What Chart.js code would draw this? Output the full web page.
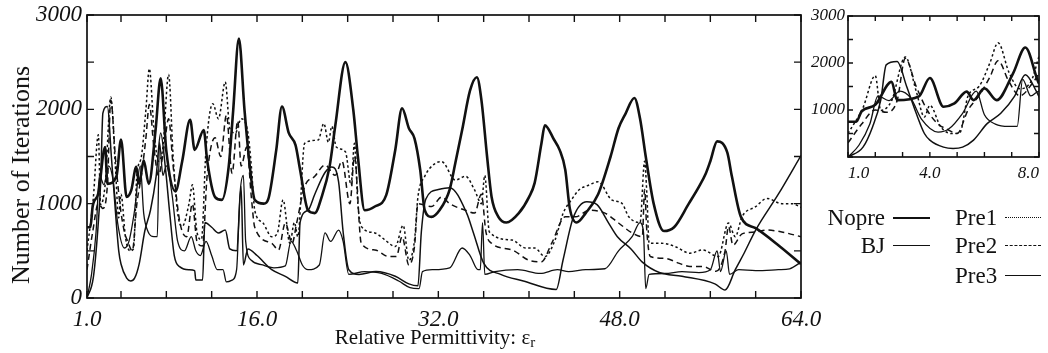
<!DOCTYPE html>
<html>
<head>
<meta charset="utf-8">
<title>Number of Iterations vs Relative Permittivity</title>
<script src="https://cdn.jsdelivr.net/npm/chart.js@4.4.0/dist/chart.umd.min.js"></script>
<style>
  html, body { margin: 0; padding: 0; background: #fff; }
  #page { position: relative; width: 1048px; height: 353px; overflow: hidden;
          font-family: "Liberation Serif", "DejaVu Serif", serif; color: #111; }
  #mainBox  { position: absolute; left: 0; top: 0; width: 835px; height: 330px; }
  #insetBox { position: absolute; left: 800px; top: 0; width: 248px; height: 190px; }
  .ytitle { position: absolute; left: 21px; top: 175px; font-size: 26px; white-space: nowrap;
            transform: translate(-50%, -50%) rotate(-90deg); }
  .xtitle { position: absolute; left: 435px; top: 338px; font-size: 21px; white-space: nowrap;
            transform: translate(-50%, -50%); }
  .xtitle sub { font-size: 15px; vertical-align: -3px; }
  .leg { position: absolute; font-size: 23px; line-height: 1; white-space: nowrap;
         transform: translateY(-50%); }
  .sample { position: absolute; height: 0; border-top-color: #111; }
</style>
</head>
<body>
<div id="page">
  <div id="mainBox"><canvas id="mainChart"></canvas></div>
  <div id="insetBox"><canvas id="insetChart"></canvas></div>
  <div class="ytitle">Number of Iterations</div>
  <div class="xtitle">Relative Permittivity: &epsilon;<sub>r</sub></div>

  <div class="leg" style="right:163px; top:217px;">Nopre</div>
  <div class="sample" style="left:893px; width:37px; top:217px; border-top:2.5px solid #111;"></div>
  <div class="leg" style="right:163px; top:245px;">BJ</div>
  <div class="sample" style="left:893px; width:37px; top:245px; border-top:1.6px solid #111;"></div>
  <div class="leg" style="left:955px; top:217px;">Pre1</div>
  <div class="sample" style="left:1005px; width:36px; top:217px; border-top:1.4px dotted #111;"></div>
  <div class="leg" style="left:955px; top:245px;">Pre2</div>
  <div class="sample" style="left:1005px; width:36px; top:245px; border-top:1.4px dashed #111;"></div>
  <div class="leg" style="left:955px; top:275px;">Pre3</div>
  <div class="sample" style="left:1005px; width:36px; top:275px; border-top:1.2px solid #111;"></div>
</div>
<script>
// [relative permittivity, number of iterations]
var nopre = [
  [1.0,750],[1.3,750],[1.5,970],[2.0,1110],[2.6,1600],[2.8,1210],[3.6,1290],[4.0,1680],[4.5,1070],[4.9,1140],
  [5.35,1390],[5.6,1210],[6.0,1460],[6.45,1210],[7.05,1780],[7.5,2330],[8.0,1560],[8.8,1130],[9.4,1450],[10.1,1890],
  [10.5,1570],[11.3,1780],[11.6,1460],[12.3,1070],[12.9,1040],[13.5,1390],[13.9,1990],[14.4,2750],[14.9,1990],[15.4,1360],
  [15.8,1040],[16.6,1000],[17.0,1050],[17.7,1570],[18.2,2030],[18.8,1750],[19.4,1620],[19.8,1360],[20.5,930],[21.1,900],
  [21.7,1070],[22.4,1390],[22.9,1820],[23.8,2500],[24.5,1990],[24.9,1500],[25.5,930],[26.4,970],[27.4,1090],[28.2,1570],
  [28.8,2010],[29.4,1800],[29.9,1690],[30.4,1360],[30.8,930],[31.4,860],[32.1,930],[33.0,1150],[33.5,1430],[34.1,1780],
  [34.8,2200],[35.4,2340],[35.8,2100],[36.3,1500],[36.7,1070],[37.3,860],[38.0,800],[39.1,900],[40.0,1070],[40.5,1220],
  [41.1,1640],[41.4,1830],[42.2,1680],[42.7,1570],[43.2,1360],[43.6,950],[44.2,800],[45.0,900],[46.1,1100],[47.2,1500],
  [47.9,1800],[48.5,1950],[49.3,2120],[49.8,1900],[50.3,1500],[51.0,1000],[51.9,710],[52.8,750],[54.1,1000],[55.0,1180],
  [55.6,1320],[56.0,1450],[56.6,1660],[57.5,1540],[57.9,1290],[58.7,860],[60.0,740],[62.0,560],[64.0,360]
];
var bj = [
  [1.0,0],[1.55,210],[1.9,640],[2.2,1210],[2.4,1960],[2.8,2030],[3.15,1500],[3.5,930],[3.8,500],[4.0,360],
  [4.5,210],[4.85,180],[5.2,210],[5.6,360],[6.1,710],[6.6,930],[7.1,1290],[7.5,1750],[7.9,1400],[8.3,900],
  [8.7,450],[9.2,330],[10.0,300],[10.5,290],[10.6,190],[11.2,190],[11.4,800],[12.0,750],[12.6,690],[13.2,720],
  [13.6,520],[14.2,500],[14.6,1180],[14.8,350],[15.2,520],[16.0,450],[17.3,300],[18.5,230],[19.6,160],[19.8,800],
  [20.5,930],[21.1,1100],[22.0,1330],[22.6,1390],[23.2,1230],[23.6,700],[24.1,300],[25.0,250],[26.5,280],[28.2,230],
  [29.4,150],[30.2,130],[30.5,700],[30.9,1050],[32.0,1150],[33.0,1170],[34.5,900],[35.1,690],[36.0,370],[37.5,250],
  [39.5,180],[42.4,90],[43.0,400],[43.9,850],[45.1,1020],[46.0,990],[47.0,800],[47.8,650],[49.0,520],[50.0,380],
  [51.5,270],[53.5,230],[56.4,150],[57.3,85],[58.2,300],[59.0,480],[60.0,720],[62.0,1100],[64.0,1510]
];
var pre1 = [
  [1.0,500],[1.55,1050],[2.0,1730],[2.2,990],[2.6,1200],[3.1,2130],[3.5,1400],[3.8,850],[4.0,1100],[4.4,640],
  [4.8,500],[5.1,520],[5.4,1300],[5.8,1500],[6.2,2000],[6.5,2430],[6.9,1800],[7.3,1450],[7.7,1600],[8.2,2370],
  [8.6,1500],[9.0,900],[9.4,760],[10.0,1000],[10.3,1200],[10.7,700],[11.1,620],[11.5,1570],[12.1,2060],[12.6,1900],
  [13.2,2290],[13.6,1800],[14.1,1750],[14.6,1900],[15.2,1750],[15.5,1400],[15.8,930],[16.5,800],[17.3,650],[17.8,690],
  [18.3,1040],[18.9,580],[19.3,800],[19.6,650],[20.2,1640],[21.4,1675],[21.9,1850],[22.3,1650],[22.6,1820],[23.0,1600],
  [23.8,1550],[24.3,1200],[24.6,1640],[24.9,1000],[25.2,760],[26.4,690],[27.3,615],[28.2,545],[28.9,770],[29.4,400],
  [29.9,615],[30.2,1070],[30.8,1290],[31.7,1425],[32.3,1445],[33.5,1250],[34.4,1290],[35.2,1145],[35.8,1000],[36.1,1300],
  [36.5,700],[38.5,615],[39.7,530],[40.5,530],[41.4,440],[42.3,615],[43.0,895],[43.8,1050],[44.4,1145],[45.3,1198],
  [46.1,1233],[47.3,1040],[48.2,1003],[48.8,862],[49.8,800],[50.2,1450],[50.4,1100],[50.6,580],[51.7,580],[52.9,545],
  [54.2,475],[55.3,509],[56.7,440],[57.6,795],[58.2,650],[58.8,862],[60.0,968],[61.0,1056],[62.3,1000],[63.2,1000],
  [64.0,960]
];
var pre2 = [
  [1.0,300],[1.5,700],[2.0,1000],[2.4,950],[2.8,1200],[3.1,2100],[3.5,1500],[3.9,1000],[4.3,700],[4.6,600],
  [5.0,500],[5.4,1000],[5.8,1300],[6.2,1700],[6.5,2050],[6.9,1600],[7.3,1300],[7.8,1600],[8.2,1900],[8.6,1400],
  [9.2,800],[9.8,650],[10.3,1000],[10.7,600],[11.2,550],[11.6,1300],[12.3,1700],[12.8,1500],[13.3,1940],[13.8,1320],
  [14.3,1880],[14.6,1400],[15.1,1600],[15.5,1070],[15.8,750],[17.3,580],[17.9,510],[18.5,795],[19.1,580],[19.5,795],
  [20.2,1180],[21.1,1290],[22.0,1410],[22.9,1300],[23.5,1450],[24.2,1000],[24.6,1500],[25.2,580],[26.4,510],[27.6,440],
  [28.3,440],[28.8,650],[29.4,350],[29.9,550],[30.2,1000],[31.4,970],[32.3,1070],[33.0,1000],[34.4,930],[35.2,900],
  [35.8,1100],[36.2,700],[36.7,580],[38.5,510],[40.0,400],[41.1,385],[42.0,580],[43.2,860],[44.1,860],[45.3,930],
  [46.7,900],[47.9,795],[49.1,690],[50.0,650],[50.2,1150],[50.4,700],[50.7,440],[52.0,420],[53.2,370],[54.2,335],
  [55.3,335],[56.5,283],[57.3,500],[57.6,760],[58.0,560],[58.8,680],[60.0,700],[61.0,720],[62.3,700],[64.0,650]
];
var pre3 = [
  [1.0,0],[1.4,250],[1.8,700],[2.1,1300],[2.5,1200],[2.9,1400],[3.3,1250],[3.7,800],[4.3,530],[4.7,600],
  [5.2,930],[5.7,1400],[6.0,900],[6.4,700],[6.9,650],[7.2,650],[7.4,1650],[7.7,1300],[8.0,1400],[8.5,1100],
  [9.0,600],[9.6,500],[10.2,650],[10.6,500],[11.0,450],[11.5,600],[12.0,450],[12.5,300],[13.0,300],[13.3,170],
  [13.8,190],[14.2,300],[14.5,1100],[14.8,1300],[15.0,600],[15.5,400],[16.5,350],[17.5,320],[18.5,340],[19.0,600],
  [19.5,500],[20.0,350],[20.5,300],[21.5,350],[22.0,690],[22.5,600],[23.2,720],[23.6,600],[24.1,250],[25.5,280],
  [27.0,260],[28.5,180],[29.5,110],[30.3,100],[30.6,280],[31.5,300],[33.0,320],[34.1,530],[34.8,450],[35.5,300],
  [35.7,300],[35.9,800],[36.1,250],[37.0,280],[39.0,300],[41.0,260],[42.5,300],[43.5,280],[45.0,300],[46.7,310],
  [47.9,500],[49.1,650],[49.8,800],[50.1,700],[50.3,100],[50.6,250],[52.0,260],[53.5,280],[55.0,270],[56.0,300],
  [56.6,500],[56.9,280],[57.4,500],[57.7,250],[58.5,300],[60.0,290],[62.0,300],[63.0,310],[64.0,380]
];

var mainTicksX  = [1, 4, 8, 12, 16, 20, 24, 28, 32, 36, 40, 44, 48, 52, 56, 60, 64];
var mainLabelsX = [1, 16, 32, 48, 64];
var insetTicksX  = [1, 2, 3, 4, 5, 6, 7, 8];
var insetLabelsX = [1, 4, 8];
var yLabels = [0, 1000, 2000, 3000];
var insetYLabels = [1000, 2000, 3000];

var INK = '#111';
var SERIF = '"Liberation Serif", "DejaVu Serif", serif';

// frame with inward ticks on all four sides
var frameTicks = {
  id: 'frameTicks',
  afterDraw: function (chart, args, opts) {
    var ctx = chart.ctx, a = chart.chartArea;
    var xs = chart.scales.x, ys = chart.scales.y;
    var len = opts.len || 6;
    ctx.save();
    ctx.strokeStyle = INK;
    ctx.lineWidth = opts.frame || 1.7;
    ctx.strokeRect(a.left, a.top, a.right - a.left, a.bottom - a.top);
    ctx.lineWidth = 1.4;
    ctx.beginPath();
    xs.ticks.forEach(function (t) {
      var px = xs.getPixelForValue(t.value);
      ctx.moveTo(px, a.bottom); ctx.lineTo(px, a.bottom - len);
      ctx.moveTo(px, a.top);    ctx.lineTo(px, a.top + len);
    });
    ys.ticks.forEach(function (t) {
      var py = ys.getPixelForValue(t.value);
      ctx.moveTo(a.left, py);  ctx.lineTo(a.left + len, py);
      ctx.moveTo(a.right, py); ctx.lineTo(a.right - len, py);
    });
    ctx.stroke();
    ctx.restore();
  }
};

function toXY(pairs) {
  return pairs.map(function (p) { return { x: p[0], y: p[1] }; });
}

function makeDatasets() {
  var base = { pointRadius: 0, borderColor: INK, fill: false, cubicInterpolationMode: 'monotone' };
  return [
    Object.assign({ label: 'Nopre', data: toXY(nopre), borderWidth: 2.6 }, base),
    Object.assign({ label: 'BJ',    data: toXY(bj),    borderWidth: 1.5 }, base),
    Object.assign({ label: 'Pre1',  data: toXY(pre1),  borderWidth: 1.5, borderDash: [2.5, 2.5] }, base),
    Object.assign({ label: 'Pre2',  data: toXY(pre2),  borderWidth: 1.5, borderDash: [6, 4] }, base),
    Object.assign({ label: 'Pre3',  data: toXY(pre3),  borderWidth: 1.3 }, base)
  ];
}

function buildChart(canvasId, cfg) {
  return new Chart(document.getElementById(canvasId), {
    type: 'line',
    data: { datasets: makeDatasets() },
    plugins: [frameTicks],
    options: {
      animation: false,
      responsive: true,
      maintainAspectRatio: false,
      devicePixelRatio: 1,
      layout: { padding: cfg.padding },
      plugins: { legend: { display: false }, tooltip: { enabled: false }, frameTicks: { len: cfg.tickLen } },
      scales: {
        x: {
          type: 'linear', min: cfg.xMin, max: cfg.xMax,
          grid: { display: false, drawTicks: false }, border: { display: false },
          afterBuildTicks: function (s) { s.ticks = cfg.ticksX.map(function (v) { return { value: v }; }); },
          afterFit: function (s) { s.height = cfg.xHeight; s.paddingLeft = 0; s.paddingRight = 0; },
          ticks: {
            autoSkip: false, maxRotation: 0, padding: cfg.xPad, color: INK, align: cfg.xAlign,
            font: { family: SERIF, style: 'italic', size: cfg.fontSize },
            callback: function (v) { return cfg.labelsX.indexOf(v) >= 0 ? v.toFixed(1) : ''; }
          }
        },
        y: {
          min: 0, max: 3000,
          grid: { display: false, drawTicks: false }, border: { display: false },
          afterFit: function (s) { s.width = cfg.yWidth; s.paddingTop = 0; s.paddingBottom = 0; },
          ticks: {
            stepSize: 500, autoSkip: false, padding: cfg.yPad, color: INK,
            font: { family: SERIF, style: 'italic', size: cfg.fontSize },
            callback: function (v) { return cfg.labelsY.indexOf(v) >= 0 ? String(v) : ''; }
          }
        }
      }
    }
  });
}

buildChart('mainChart', {
  padding: { left: 0, right: 34, top: 15, bottom: 0 },
  xMin: 1, xMax: 64, ticksX: mainTicksX, labelsX: mainLabelsX, labelsY: yLabels,
  xHeight: 32, yWidth: 87, xPad: 8, yPad: 5, fontSize: 23, tickLen: 7, xAlign: 'center'
});

buildChart('insetChart', {
  padding: { left: 0, right: 9, top: 16, bottom: 0 },
  xMin: 1, xMax: 8, ticksX: insetTicksX, labelsX: insetLabelsX, labelsY: insetYLabels,
  xHeight: 33, yWidth: 48, xPad: 6, yPad: 3, fontSize: 17, tickLen: 5, xAlign: 'inner'
});
</script>
</body>
</html>
